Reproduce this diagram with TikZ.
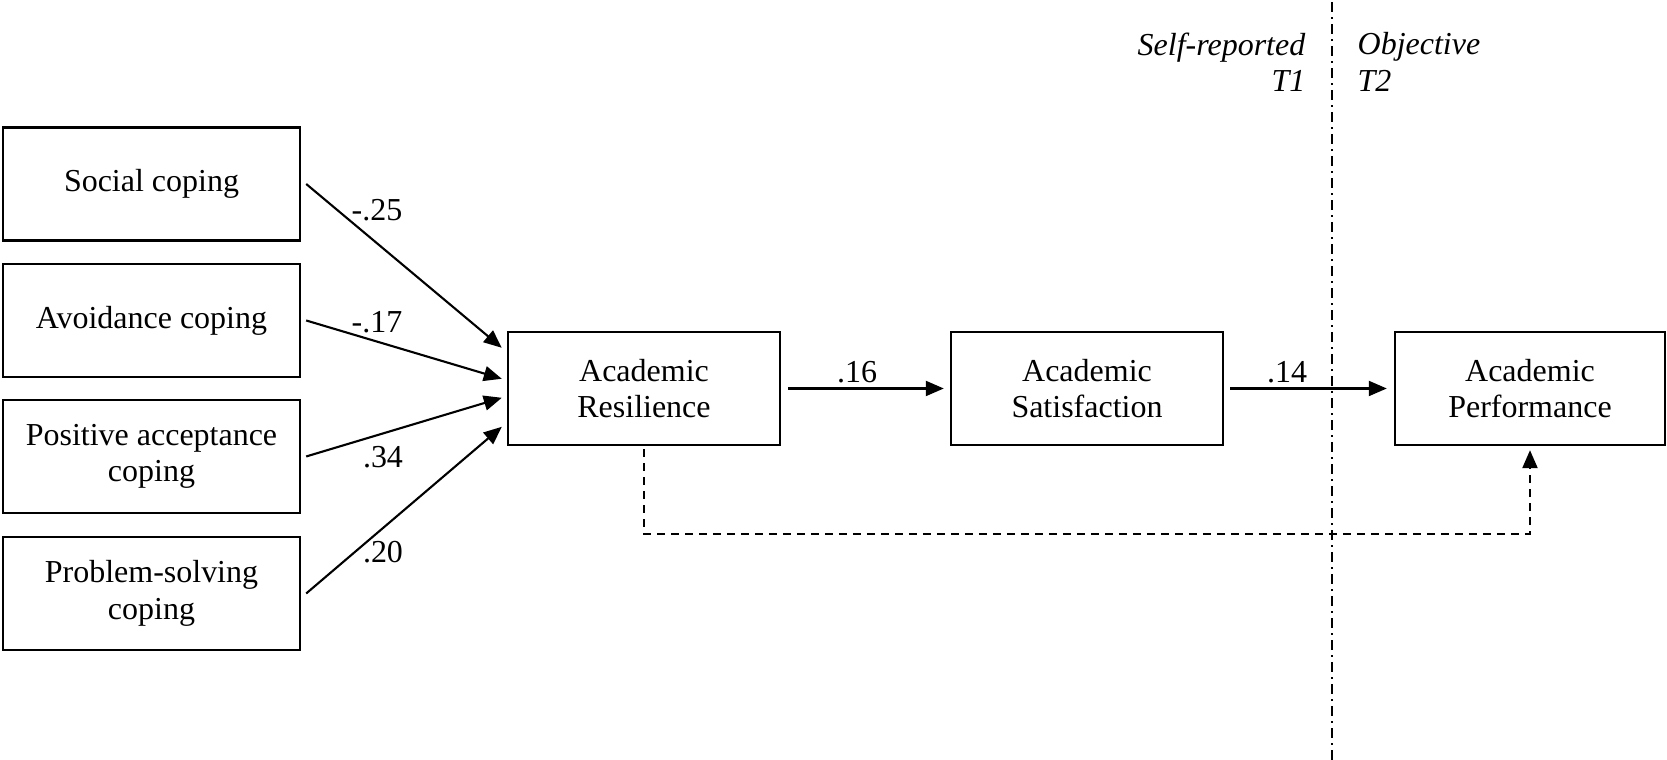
\documentclass[tikz,border=0pt]{standalone}
\usepackage{fontspec}
\setmainfont{Liberation Serif}
\usetikzlibrary{arrows.meta}

\tikzset{
  varbox/.style={draw=black, line width=0.024cm, minimum width=2.97cm, minimum height=1.13cm,
    align=center, inner sep=0pt, font=\fontsize{9.1}{10.4}\selectfont},
  mainbox/.style={varbox, minimum width=2.72cm},
  effect/.style={-{Triangle[length=0.18cm,width=0.15cm]}, line width=0.021cm},
  indirect/.style={effect, line width=0.022cm, dash pattern=on 0.08cm off 0.06cm},
  coef/.style={inner sep=0pt, font=\fontsize{9.1}{10.4}\selectfont},
  period/.style={inner sep=0pt, font=\fontsize{9.1}{10.4}\selectfont\itshape},
}

\begin{document}
\begin{tikzpicture}
\useasboundingbox (0,0) rectangle (16.67,7.6);
% predictors
\node[varbox] (social) at (1.515,5.76) {Social coping};
\node[varbox] (avoid) at (1.515,4.395) {Avoidance coping};
\node[varbox] (accept) at (1.515,3.035) {Positive acceptance\\coping};
\node[varbox] (solve) at (1.515,1.665) {Problem-solving\\coping};
% outcomes
\node[mainbox] (resil) at (6.44,3.715) {Academic\\Resilience};
\node[mainbox] (satis) at (10.87,3.715) {Academic\\Satisfaction};
\node[mainbox, minimum width=2.70cm] (perf) at (15.30,3.715) {Academic\\Performance};
% paths
\draw[effect] ([xshift=0.05cm]social.east) -- ([xshift=-0.05cm,yshift=-0.17cm]resil.north west);
\draw[effect] ([xshift=0.05cm]avoid.east) -- ([xshift=-0.05cm,yshift=-0.48cm]resil.north west);
\draw[effect] ([xshift=0.05cm]accept.east) -- ([xshift=-0.05cm,yshift=-0.67cm]resil.north west);
\draw[effect] ([xshift=0.05cm]solve.east) -- ([xshift=-0.05cm,yshift=-0.96cm]resil.north west);
\draw[effect] ([xshift=0.07cm]resil.east) -- ([xshift=-0.06cm]satis.west);
\draw[effect] ([xshift=0.06cm]satis.east) -- ([xshift=-0.07cm]perf.west);
\draw[indirect] ([yshift=-0.03cm]resil.south) -- ++(0,-0.85) -| ([yshift=-0.04cm]perf.south);
% coefficients
\node[coef] (c1) at (3.77,5.50) {-.25};
\node[coef] (c2) at (3.77,4.38) {-.17};
\node[coef] (c3) at (3.83,3.03) {.34};
\node[coef] (c4) at (3.83,2.08) {.20};
\node[coef] (c5) at (8.57,3.88) {.16};
\node[coef] (c6) at (12.87,3.88) {.14};
% time split
\draw[line width=0.02cm, dash pattern=on 0.10cm off 0.05cm on 0.02cm off 0.05cm] (13.32,0) -- (13.32,7.6);
\node[period, align=right, anchor=north east] (selfrep) at (13.06,7.28) {Self-reported\\T1};
\node[period, align=left, anchor=north west] (object) at (13.57,7.28) {Objective\\T2};
\end{tikzpicture}
\end{document}
